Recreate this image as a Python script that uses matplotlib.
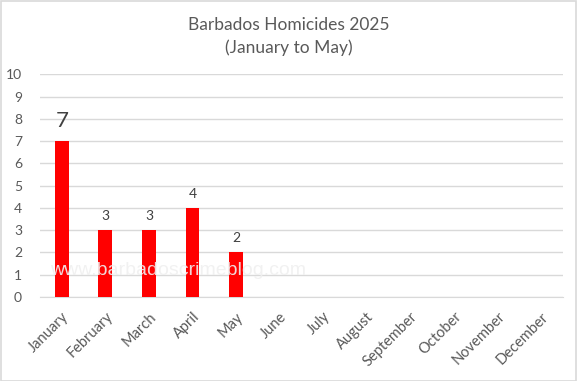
import matplotlib
matplotlib.use("Agg")
import matplotlib.pyplot as plt

months = ["January", "February", "March", "April", "May", "June", "July",
          "August", "September", "October", "November", "December"]
homicides = [7, 3, 3, 4, 2]
yticks = list(range(0, 11))

plt.rcParams['font.family'] = ['Lato', 'DejaVu Sans']
txt = '#595959'

fig = plt.figure(figsize=(5.77, 3.81), dpi=100)
ax = fig.add_axes([0.0693, 0.2205, 0.9064, 0.5845])
x = list(range(len(months)))
bars = ax.bar(x[:len(homicides)], homicides, width=0.32, color='#ff0000', zorder=3)
ax.set_xlim(-0.5, len(months) - 0.5)
ax.set_ylim(0, 10)
ax.set_yticks(yticks)
ax.set_yticklabels([str(v) for v in yticks], color=txt, fontsize=10)
ax.set_xticks(x)
ax.set_xticklabels(months, rotation=45, ha='right', rotation_mode='anchor', color=txt, fontsize=10.5)
ax.tick_params(length=0)
ax.tick_params(axis='y', pad=13)
ax.tick_params(axis='x', pad=9)
ax.grid(axis='y', color='#d9d9d9', linewidth=1, zorder=0)
for s in ['top', 'right', 'left']:
    ax.spines[s].set_visible(False)
ax.spines['bottom'].set_color('#d9d9d9')

for i, v in enumerate(homicides):
    fs = 16 if i == 0 else 10
    off = 7 if i == 0 else 6
    ax.annotate(str(v), (i, v), xytext=(0, off), textcoords='offset points',
                ha='center', va='bottom', fontsize=fs, color='#404040')

ax.text(-0.27, 1.2, "www.barbadoscrimeblog.com", transform=ax.transData,
        fontsize=14, family=['Liberation Sans', 'DejaVu Sans'],
        color='#f0f0f0', alpha=0.9, va='center', ha='left', zorder=4)

fig.text(0.5, 0.934, "Barbados Homicides 2025", ha='center', va='center', fontsize=12.5, color=txt)
fig.text(0.5, 0.876, "(January to May)", ha='center', va='center', fontsize=12.5, color=txt)

fig.patches.append(plt.Rectangle((0.001, 0.001), 0.997, 0.997, transform=fig.transFigure,
                                 fill=False, edgecolor='#d9d9d9', linewidth=1.2))
fig.savefig("out.png", dpi=100)
